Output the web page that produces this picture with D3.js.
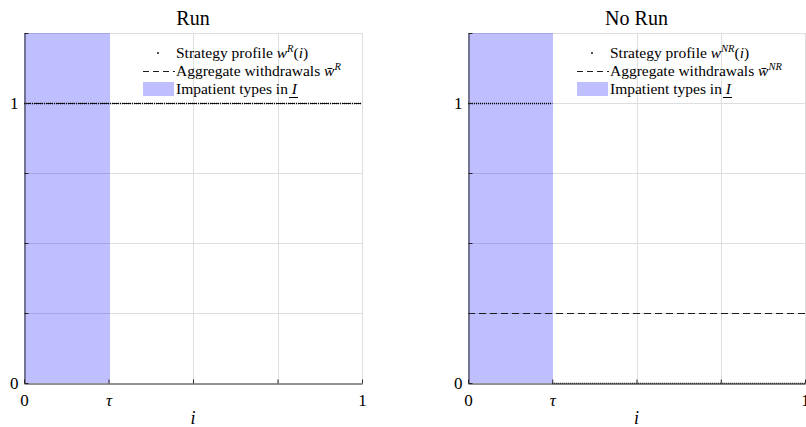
<!DOCTYPE html>
<html><head><meta charset="utf-8">
<script src="https://cdn.jsdelivr.net/npm/d3@7"></script>
<style>
body{margin:0;background:#fff}
text{font-family:"Liberation Serif","DejaVu Serif",serif;fill:#000}
</style>
</head><body>
<svg id="c" width="806" height="427"></svg>
<script>
// ---- data ----
const tau = 0.25;
const xTickValues = [0, 0.25, 0.5, 0.75, 1];
const xTickLabels = ["0", "τ", "", "", "1"];
const yTickValues = [0, 0.25, 0.5, 0.75, 1, 1.25];
const yTickLabels = ["0", "", "", "", "1", ""];
const panelTitles = ["Run", "No Run"];
const legendSup = ["R", "NR"];
// strategy profile w(i): step segments
const strategyRun = [[{i: 0, w: 1}, {i: 1, w: 1}]];
const strategyNoRun = [[{i: 0, w: 1}, {i: tau, w: 1}], [{i: tau, w: 0}, {i: 1, w: 0}]];
const aggregateRun = 1;
const aggregateNoRun = 0.25;
const impatientRange = [0, tau];

// ---- layout ----
const svg = d3.select("#c");
const panels = [
  {x0: 24, x1: 362, title: panelTitles[0], sup: legendSup[0], strat: strategyRun, agg: aggregateRun, legX: 176},
  {x0: 468, x1: 805, title: panelTitles[1], sup: legendSup[1], strat: strategyNoRun, agg: aggregateNoRun, legX: 610}
];
const yBottom = 383, yTop = 33;
const FONT = '"Liberation Serif","DejaVu Serif",serif';

panels.forEach(p => {
  const x = d3.scaleLinear().domain([0, 1]).range([p.x0, p.x1]);
  const y = d3.scaleLinear().domain([0, 1.25]).range([yBottom, yTop]);
  const g = svg.append("g");

  // grid (vertical lines hidden under the shaded edge are skipped)
  g.selectAll(".gx").data(xTickValues.filter(v => v > impatientRange[1])).enter().append("line")
    .attr("x1", d => Math.round(x(d)) + 0.5).attr("x2", d => Math.round(x(d)) + 0.5).attr("y1", y(0)).attr("y2", y(1.25))
    .attr("stroke", "#dedede").attr("stroke-width", 1);
  g.selectAll(".gy").data(yTickValues.filter(v => v > 0)).enter().append("line")
    .attr("x1", x(0)).attr("x2", x(1)).attr("y1", d => y(d) + 0.5).attr("y2", d => y(d) + 0.5)
    .attr("stroke", "#dedede").attr("stroke-width", 1);

  // impatient region
  const rx0 = Math.round(x(impatientRange[0])), rx1 = Math.round(x(impatientRange[1])) + 1;
  g.append("rect")
    .attr("x", rx0).attr("width", rx1 - rx0)
    .attr("y", y(1.25)).attr("height", y(0) - y(1.25))
    .attr("fill", "#0000ff").attr("fill-opacity", 0.25);

  const line = d3.line().x(d => x(d.i)).y(d => y(d.w) + 0.5);
  // aggregate dashed
  g.append("path").datum([{i: 0, w: p.agg}, {i: 1, w: p.agg}])
    .attr("d", line).attr("fill", "none").attr("stroke", "#1a1a1a")
    .attr("stroke-width", 1).attr("stroke-dasharray", "7,4");
  // strategy profile dotted
  p.strat.forEach(seg => {
    g.append("path").datum(seg).attr("d", line).attr("fill", "none")
      .attr("stroke", "#000").attr("stroke-width", 1.5).attr("stroke-dasharray", "1,1");
  });

  // axes
  const ax = g.append("g").attr("transform", `translate(0,${yBottom + 0.5})`)
    .call(d3.axisBottom(x).tickValues(xTickValues).tickSizeInner(-4).tickSizeOuter(0).tickPadding(10)
      .tickFormat((d, k) => xTickLabels[k]));
  const ay = g.append("g").attr("transform", `translate(${p.x0 + 0.5},0)`)
    .call(d3.axisLeft(y).tickValues(yTickValues).tickSizeInner(-4).tickSizeOuter(0).tickPadding(6)
      .tickFormat((d, k) => yTickLabels[k]));
  [ax, ay].forEach(a => {
    a.select(".domain").attr("stroke", "#262626").attr("stroke-width", 1);
    a.selectAll(".tick line").attr("stroke", "#262626");
    a.selectAll("text").style("font-family", FONT)
      .style("font-size", "17px").attr("fill", "#000");
  });
  ax.selectAll("text").filter((d, k) => xTickLabels[k] === "τ").style("font-style", "italic");

  // title
  g.append("text").attr("x", x(0.5)).attr("y", 25).attr("text-anchor", "middle")
    .style("font-size", "20px").text(p.title);
  // x label
  g.append("text").attr("x", x(0.5)).attr("y", 424).attr("text-anchor", "middle")
    .style("font-size", "18px").style("font-style", "italic").text("i");

  // legend
  const lx = p.legX;
  const leg = g.append("g").style("font-size", "15.5px");
  leg.append("circle").attr("cx", lx - 18).attr("cy", 53).attr("r", 0.9).attr("fill", "#000");
  const t1 = leg.append("text").attr("x", lx).attr("y", 58);
  t1.append("tspan").text("Strategy profile ");
  t1.append("tspan").style("font-style", "italic").text("w");
  t1.append("tspan").attr("dy", -6).style("font-size", "10.5px").style("font-style", "italic").text(p.sup);
  t1.append("tspan").attr("dy", 6).text("(");
  t1.append("tspan").style("font-style", "italic").text("i");
  t1.append("tspan").text(")");

  leg.append("line").attr("x1", lx - 33).attr("x2", lx - 1).attr("y1", 71.5).attr("y2", 71.5)
    .attr("stroke", "#1a1a1a").attr("stroke-dasharray", "6,4");
  const t2 = leg.append("text").attr("x", lx).attr("y", 76);
  t2.append("tspan").text("Aggregate withdrawals ");
  t2.append("tspan").style("font-style", "italic").text("w\u0304");
  t2.append("tspan").attr("dy", -6).style("font-size", "10.5px").style("font-style", "italic").text(p.sup);

  leg.append("rect").attr("x", lx - 33).attr("y", 82).attr("width", 31).attr("height", 14)
    .attr("fill", "#0000ff").attr("fill-opacity", 0.25);
  const t3 = leg.append("text").attr("x", lx).attr("y", 94);
  t3.append("tspan").text("Impatient types in ");
  t3.append("tspan").style("font-style", "italic").text("I");
  const tl = t3.node().getComputedTextLength();
  leg.append("line").attr("x1", lx + tl - 8).attr("x2", lx + tl + 1).attr("y1", 97.5).attr("y2", 97.5)
    .attr("stroke", "#000").attr("stroke-width", 1);
});
</script>
</body></html>
